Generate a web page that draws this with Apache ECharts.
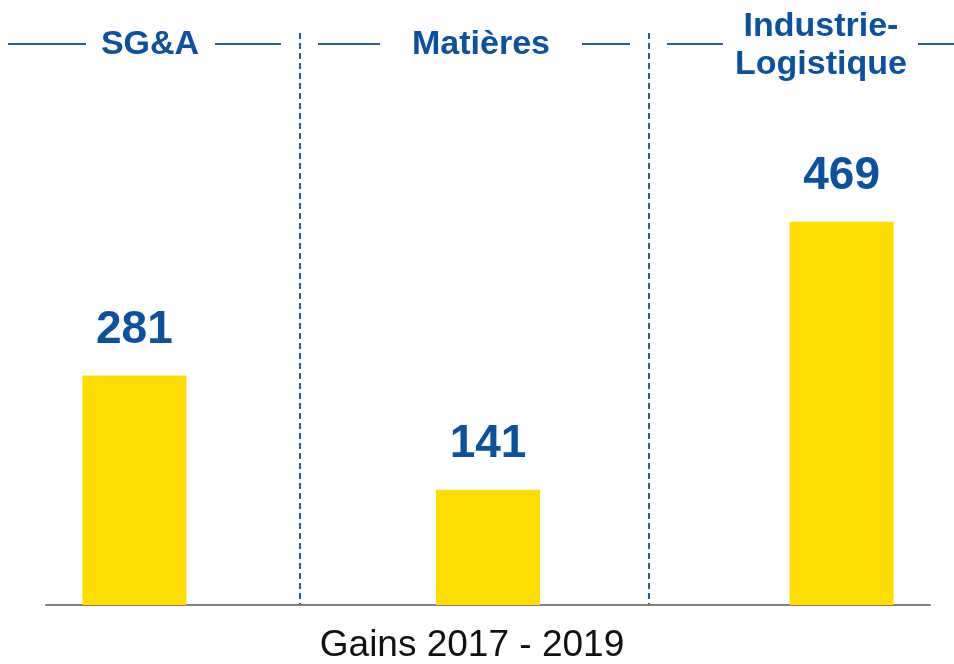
<!DOCTYPE html>
<html><head><meta charset="utf-8">
<script src="https://cdn.jsdelivr.net/npm/echarts@6/dist/echarts.min.js"></script>
<style>html,body{margin:0;padding:0;background:#fff}#c{width:954px;height:664px}</style>
</head><body><div id="c"></div>
<script>
const categories = ['SG&A', 'Matières', 'Industrie-\nLogistique'];
const values = [281, 141, 469];
const xTitle = 'Gains 2017 - 2019';

const BLUE = '#0A52A0';
const FONT = '"Liberation Sans", Arial, sans-serif';

const headerX = [150, 481, 821];
const headerY = [45, 45, 46];
const headerSegs = [[8,86],[215,281],[318,380],[582,630],[667,723],[918,954]];
const dividerX = [300, 649];

const graphics = [];
categories.forEach((c, i) => {
  graphics.push({type:'text', x: headerX[i], y: headerY[i], style:{text:c, textAlign:'center', textVerticalAlign:'middle', font:'bold 34px ' + FONT, fill: BLUE, lineHeight: 38}});
});
headerSegs.forEach(s => graphics.push({type:'line', shape:{x1:s[0], y1:44, x2:s[1], y2:44}, style:{stroke:'#2A5FA5', lineWidth:2}}));
dividerX.forEach(x => graphics.push({type:'line', shape:{x1:x, y1:33, x2:x, y2:604}, style:{stroke:'#1F5FAA', lineWidth:2, lineDash:[6,4]}}));
graphics.push({type:'text', x: 472, y: 646, style:{text: xTitle, textAlign:'center', textVerticalAlign:'middle', font:'37px ' + FONT, fill:'#111'}});

const chart = echarts.init(document.getElementById('c'), null, {renderer:'canvas'});
chart.setOption({
  animation: false,
  grid: {left: 46, right: 24, top: 33, bottom: 59},
  xAxis: {type:'value', min:-0.25, max:2.25, axisLine:{show:true, onZero:false, lineStyle:{color:'#808080', width:2}}, axisTick:{show:false}, axisLabel:{show:false}, splitLine:{show:false}},
  yAxis: {type:'value', min:0, max:700, show:false, splitLine:{show:false}},
  series: [{
    type:'bar', barWidth:104,
    data: values.map((v,i) => [i, v]),
    itemStyle:{color:'#FFDD00'},
    label:{show:true, position:'top', distance:22, fontSize:46, fontWeight:'bold', color:BLUE, fontFamily:FONT}
  }],
  graphic: graphics
});
</script></body></html>
